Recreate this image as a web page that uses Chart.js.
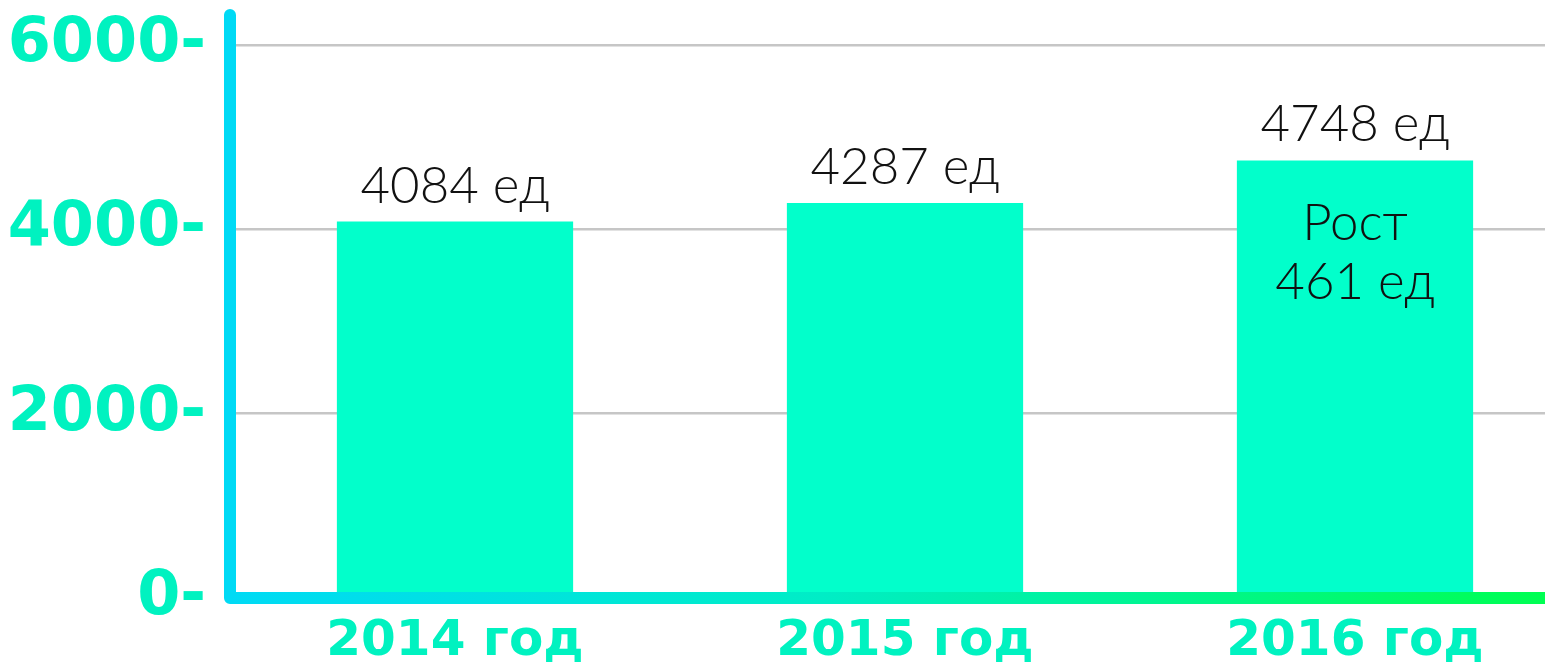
<!DOCTYPE html>
<html>
<head>
<meta charset="utf-8">
<script src="https://cdn.jsdelivr.net/npm/chart.js@4.4.1/dist/chart.umd.min.js"></script>
<style>
    html, body { margin: 0; padding: 0; background: #fff; overflow: hidden; }
    .wrap { width: 1580px; height: 667px; }
</style>
</head>
<body>
<div class="wrap"><canvas id="salesChart"></canvas></div>
<script>
const years = ['2014 год', '2015 год', '2016 год'];
const units = [4084, 4287, 4748];
const yTicks = [0, 2000, 4000, 6000];
const unitSuffix = ' ед';
const growthTitle = 'Рост';

const barColor = '#02FFCB';
const tickColor = '#00F2C0';

// axis lines, drawn over the bars like in the original
const axisLines = {
    id: 'axisLines',
    afterDatasetsDraw(chart) {
        const { ctx, chartArea } = chart;
        const x0 = chartArea.left;
        const y0 = chartArea.bottom;
        const grad = ctx.createLinearGradient(x0, 0, 1545, 0);
        grad.addColorStop(0, '#00DAF5');
        grad.addColorStop(0.45, '#00EDC6');
        grad.addColorStop(1, '#00FF52');
        ctx.save();
        ctx.strokeStyle = grad;
        ctx.lineWidth = 12;
        ctx.lineCap = 'round';
        ctx.lineJoin = 'round';
        ctx.beginPath();
        ctx.moveTo(x0, chartArea.top - 30);
        ctx.lineTo(x0, y0);
        ctx.lineTo(chartArea.right + 20, y0);
        ctx.stroke();
        ctx.restore();
    }
};

// value labels above the bars, growth note inside the last one
const barLabels = {
    id: 'barLabels',
    afterDatasetsDraw(chart) {
        const { ctx } = chart;
        const bars = chart.getDatasetMeta(0).data;
        ctx.save();
        ctx.fillStyle = '#111';
        ctx.font = '300 51px Lato, "DejaVu Sans", sans-serif';
        ctx.textAlign = 'center';
        ctx.textBaseline = 'alphabetic';
        bars.forEach((bar, i) => {
            ctx.fillText(units[i] + unitSuffix, bar.x, bar.y - 19);
        });
        const last = bars[bars.length - 1];
        const growth = units[units.length - 1] - units[units.length - 2];
        ctx.fillText(growthTitle, last.x, last.y + 80);
        ctx.fillText(growth + unitSuffix, last.x, last.y + 139);
        ctx.restore();
    }
};

document.addEventListener('DOMContentLoaded', function() {
    const ctx = document.getElementById('salesChart').getContext('2d');

    new Chart(ctx, {
        type: 'bar',
        data: {
            labels: years,
            datasets: [{
                data: units,
                backgroundColor: barColor,
                borderWidth: 0,
                barPercentage: 0.525,
                categoryPercentage: 1
            }]
        },
        options: {
            responsive: true,
            maintainAspectRatio: false,
            animation: false,
            layout: {
                padding: { top: 45, right: 0, left: 0, bottom: 0 }
            },
            plugins: {
                legend: { display: false },
                tooltip: { enabled: false }
            },
            scales: {
                y: {
                    min: 0,
                    max: 6000,
                    afterBuildTicks(scale) {
                        scale.ticks = yTicks.map(v => ({ value: v }));
                    },
                    afterFit(scale) {
                        scale.width = 230;
                        scale.paddingTop = 0;
                        scale.paddingBottom = 0;
                    },
                    border: { display: false },
                    grid: {
                        color: '#C6C6C6',
                        lineWidth: 2.5,
                        drawTicks: false
                    },
                    ticks: {
                        padding: 24,
                        color: tickColor,
                        font: { family: '"DejaVu Sans", sans-serif', size: 62, weight: 'bold' },
                        callback: v => v + '-'
                    }
                },
                x: {
                    afterFit(scale) {
                        scale.height = 69;
                        scale.paddingLeft = 0;
                        scale.paddingRight = 0;
                    },
                    border: { display: false },
                    grid: { display: false, drawTicks: false },
                    ticks: {
                        padding: 14,
                        color: tickColor,
                        font: { family: '"DejaVu Sans", sans-serif', size: 50, weight: 'bold' }
                    }
                }
            }
        },
        plugins: [axisLines, barLabels]
    });
});
</script>
</body>
</html>
